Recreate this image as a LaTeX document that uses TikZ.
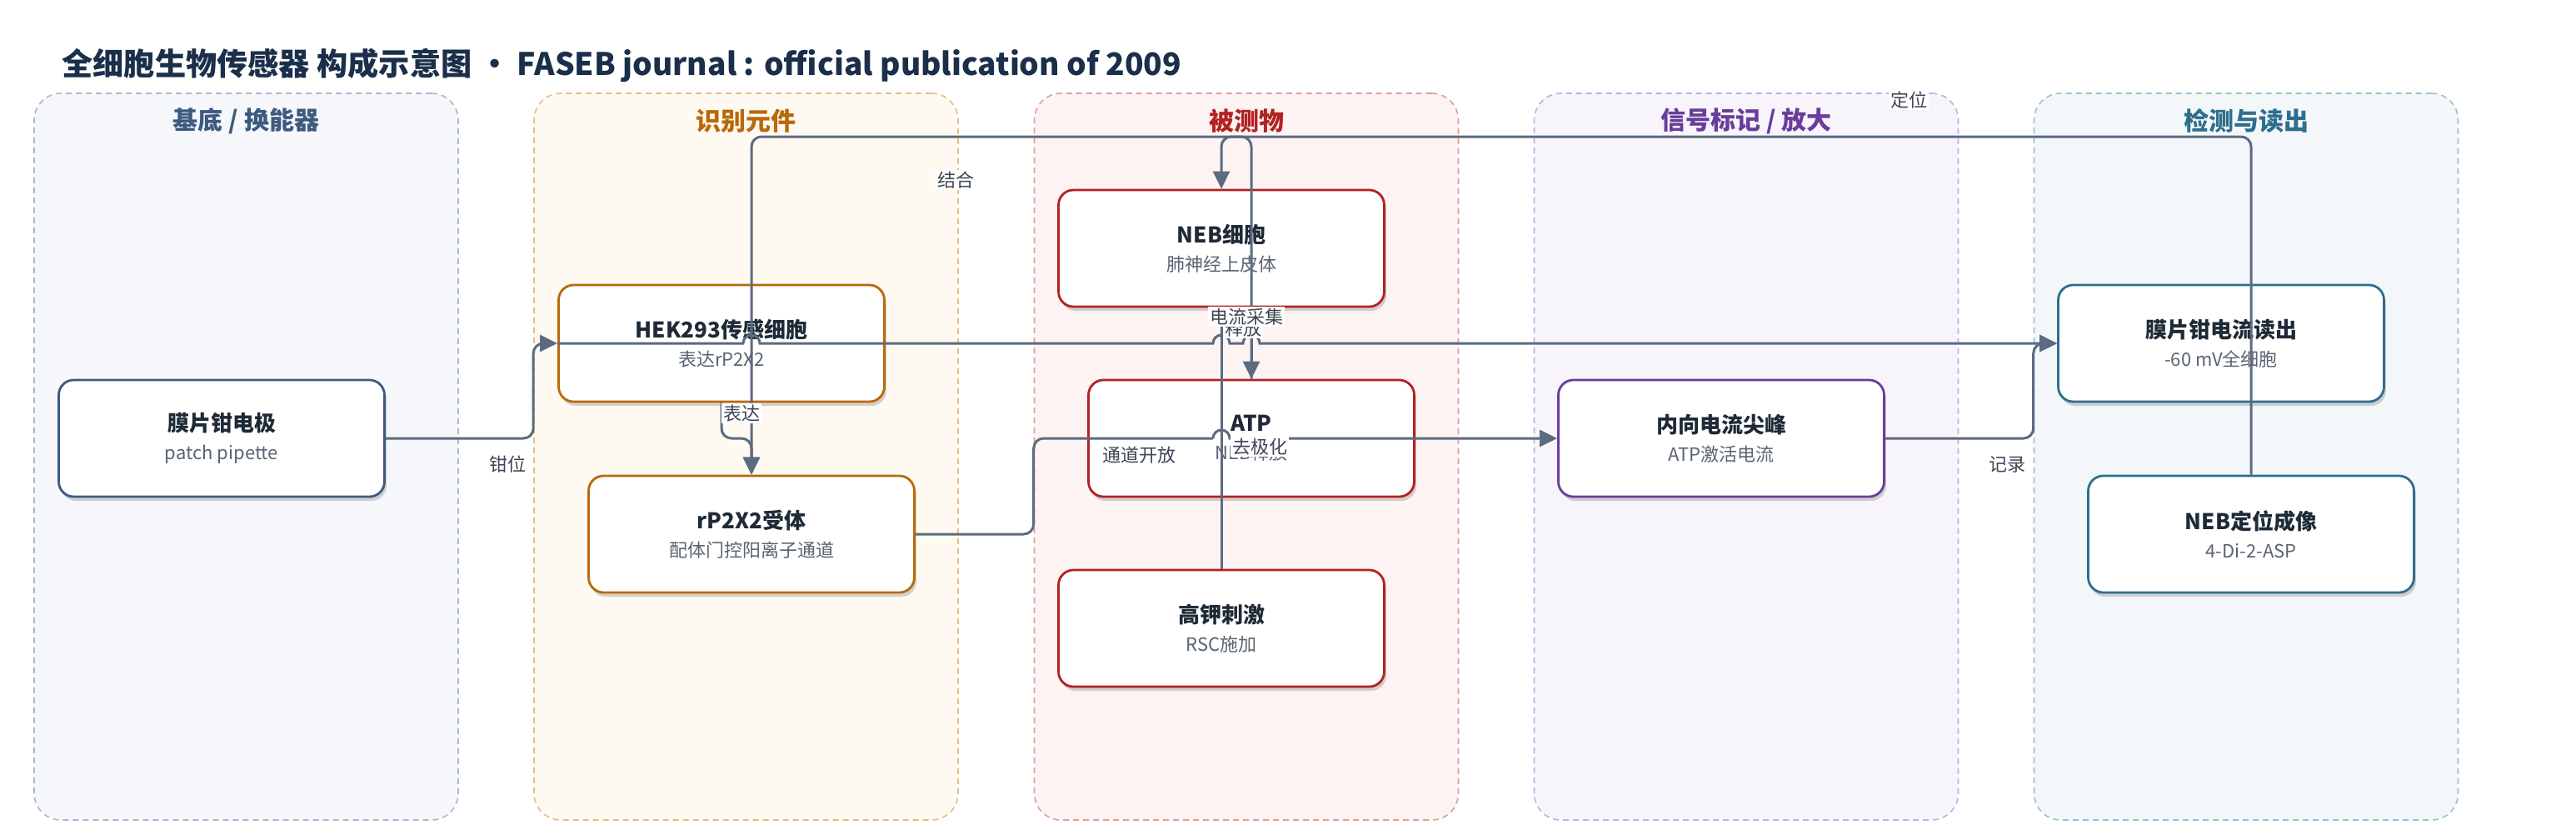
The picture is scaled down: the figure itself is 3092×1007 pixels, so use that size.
\documentclass[tikz,border=0pt]{standalone}
\usepackage{fontspec}
\setmainfont{Noto Sans CJK SC}
\usetikzlibrary{arrows.meta,shadows}

\definecolor{ink}{HTML}{1B2F4A}
\definecolor{nodeink}{HTML}{1F2A37}
\definecolor{subink}{HTML}{5A6472}
\definecolor{lblink}{HTML}{3D4654}
\definecolor{wirecol}{HTML}{5B6B80}
\definecolor{baseC}{HTML}{3D5A80}
\definecolor{baseF}{HTML}{F5F7FB}
\definecolor{baseD}{HTML}{A9B8CC}
\definecolor{recC}{HTML}{B8690A}
\definecolor{recF}{HTML}{FEF9F1}
\definecolor{recD}{HTML}{E2BE84}
\definecolor{anaC}{HTML}{B22222}
\definecolor{anaF}{HTML}{FDF3F3}
\definecolor{anaD}{HTML}{E39A9A}
\definecolor{sigC}{HTML}{6A3D9A}
\definecolor{sigF}{HTML}{F7F4FB}
\definecolor{sigD}{HTML}{C4AEE0}
\definecolor{detC}{HTML}{2E6E8E}
\definecolor{detF}{HTML}{F3F7F9}
\definecolor{detD}{HTML}{9DBFCD}

\newcommand{\boxtext}[2]{{\bfseries #1}\\{\fontsize{11pt}{17pt}\selectfont\color{subink}#2}}

\begin{document}
\begin{tikzpicture}[x=0.5pt,y=-0.5pt,
	lane/.style 2 args={draw=#2, fill=#1, dash pattern=on 3.5pt off 2.5pt, line width=0.8pt, rounded corners=16pt, minimum width=254.5pt, minimum height=436pt},
	lanetitle/.style={text=#1, font=\fontsize{15pt}{18pt}\selectfont\bfseries},
	blk/.style={draw=#1, fill=white, line width=1.4pt, rounded corners=9pt, minimum width=195.5pt, minimum height=70pt, align=center, text=nodeink, font=\fontsize{13pt}{17pt}\selectfont, drop shadow={shadow xshift=1.2pt, shadow yshift=-2.5pt, opacity=.16, fill=black}},
	wire/.style={draw=wirecol, line width=1.5pt, rounded corners=6pt},
	arrowed/.style={-{Triangle[length=10.5pt,width=10pt]}},
	lbl/.style={fill=white, inner sep=1pt, text=lblink, font=\fontsize{11pt}{13pt}\selectfont}]
	\useasboundingbox (0,0) rectangle (3092,1007);
	\fill[white] (0,0) rectangle (3092,1007);
	\node[anchor=west, inner sep=0pt, text=ink, font=\fontsize{18.6pt}{22pt}\selectfont\bfseries] (title) at (74,78) {全细胞生物传感器 构成示意图 · FASEB journal : official publication of 2009};

	\node[lane={baseF}{baseD}] (lane1) at (295.5,548) {};
	\node[lane={recF}{recD}] (lane2) at (895.5,548) {};
	\node[lane={anaF}{anaD}] (lane3) at (1496,548) {};
	\node[lane={sigF}{sigD}] (lane4) at (2096,548) {};
	\node[lane={detF}{detD}] (lane5) at (2696,548) {};
	\node[lanetitle=baseC] (t1) at ([yshift=-17pt]lane1.north) {基底 / 换能器};
	\node[lanetitle=recC] (t2) at ([yshift=-17pt]lane2.north) {识别元件};
	\node[lanetitle=anaC] (t3) at ([yshift=-17pt]lane3.north) {被测物};
	\node[lanetitle=sigC] (t4) at ([yshift=-17pt]lane4.north) {信号标记 / 放大};
	\node[lanetitle=detC] (t5) at ([yshift=-17pt]lane5.north) {检测与读出};

	\node[blk=baseC] (mpe) at (266,526) {\boxtext{膜片钳电极}{patch pipette}};
	\node[blk=recC] (hek) at (866,412) {\boxtext{HEK293传感细胞}{表达rP2X2}};
	\node[blk=recC] (rp2x2) at (902,641) {\boxtext{rP2X2受体}{配体门控阳离子通道}};
	\node[blk=anaC] (neb) at (1466,298) {\boxtext{NEB细胞}{肺神经上皮体}};
	\node[blk=anaC] (atp) at (1502,526) {\boxtext{ATP}{NEB释放}};
	\node[blk=anaC] (hk) at (1466,754) {\boxtext{高钾刺激}{RSC施加}};
	\node[blk=sigC] (spike) at (2066,526) {\boxtext{内向电流尖峰}{ATP激活电流}};
	\node[blk=detC] (readout) at (2666,412) {\boxtext{膜片钳电流读出}{-60 mV全细胞}};
	\node[blk=detC] (imaging) at (2702,641) {\boxtext{NEB定位成像}{4-Di-2-ASP}};

	\coordinate (rail) at (0,164);
	\coordinate (j1) at (rp2x2.north |- hek.west);
	\coordinate (j2) at (neb.south |- hek.west);
	\coordinate (j3) at (atp.north |- hek.west);
	\coordinate (j4) at (hk.north |- spike.west);

	\draw[wire,arrowed] (mpe.east) -- (mpe.east -| lane2.west) -- (hek.west -| lane2.west) -- (hek.west);
	\draw[wire,arrowed] (hek.south) |- (rp2x2.north |- mpe.east) -- (rp2x2.north);
	\draw[wire,arrowed] (atp.north) -- (atp.north |- rail) -- (rp2x2.north |- rail) -- (rp2x2.north);
	\draw[wire,arrowed] (imaging.north) -- (imaging.north |- rail) -- (neb.north |- rail) -- (neb.north);
	\draw[wire,arrowed] (hk.north) -- (neb.south);
	\draw[wire,arrowed] (neb.south -| atp.north) -- (atp.north);
	\draw[wire,sharp corners,arrowed] (hek.west) -- ([xshift=-5pt]j1) arc[start angle=180, end angle=0, radius=5pt]
		-- ([xshift=-5pt]j2) arc[start angle=180, end angle=0, radius=5pt]
		-- ([xshift=-5pt]j3) arc[start angle=180, end angle=0, radius=5pt] -- (readout.west);
	\draw[wire] (rp2x2.east) -- (rp2x2.east -| lane3.west) -- (spike.west -| lane3.west) -- ([xshift=-5pt]j4);
	\draw[wire,sharp corners,arrowed] ([xshift=-5pt]j4) arc[start angle=180, end angle=0, radius=5pt] -- (spike.west);
	\draw[wire,arrowed] (spike.east) -- (spike.east -| lane5.west) -- (readout.west -| lane5.west) -- (readout.west);

	\node[lbl] (l1) at (609,557) {钳位};
	\node[lbl] (l2) at (890,496) {表达};
	\node[lbl] (l3) at (1147,216) {结合};
	\node[lbl] (l4) at (1367,546) {通道开放};
	\node[lbl] (l5) at (1492,394) {释放};
	\node[lbl] (l6) at (1496,380) {电流采集};
	\node[lbl] (l7) at (1512,536) {去极化};
	\node[lbl] (l8) at (2291,120) {定位};
	\node[lbl] (l9) at (2409,557) {记录};
\end{tikzpicture}
\end{document}
